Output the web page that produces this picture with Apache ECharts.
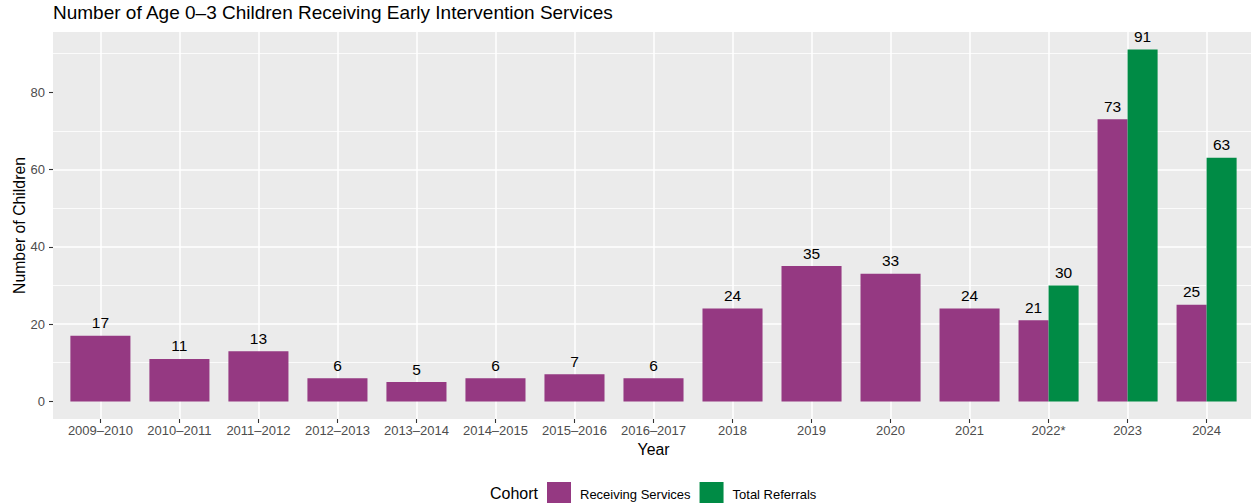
<!DOCTYPE html>
<html>
<head>
<meta charset="utf-8">
<script src="https://cdn.jsdelivr.net/npm/echarts@6/dist/echarts.min.js"></script>
<style>
html,body{margin:0;padding:0;background:#fff;}
#chart{width:1251px;height:503px;}
</style>
</head>
<body>
<div id="chart"></div>
<script>
const years = ['2009–2010','2010–2011','2011–2012','2012–2013','2013–2014','2014–2015','2015–2016','2016–2017','2018','2019','2020','2021','2022*','2023','2024'];
const receivingServices = [17,11,13,6,5,6,7,6,24,35,33,24,21,73,25];
const totalReferrals = [null,null,null,null,null,null,null,null,null,null,null,null,30,91,63];
const yTicks = [0,20,40,60,80];
const yMinor = [10,30,50,70,90];

const PURPLE = '#953982';
const GREEN = '#008B45';
const FONT = 'Liberation Sans, Arial, Helvetica, sans-serif';

// dodge info: -1 left half, +1 right half, 0 full width
const recData = receivingServices.map((v,i)=>[i, v, totalReferrals[i]==null ? 0 : -1]);
const refData = totalReferrals.map((v,i)=> v==null ? null : [i, v, 1]).filter(d=>d);

function makeRender(color){
  return function(params, api){
    const x = api.value(0), y = api.value(1), off = api.value(2);
    const top = api.coord([x, y]);
    const base = api.coord([x, 0]);
    const unit = api.size([1, 0])[0];
    const full = unit * 0.76;
    const w = off === 0 ? full : full / 2;
    const left = off === 1 ? top[0] : top[0] - full / 2;
    return {
      type: 'group',
      children: [
        {type:'rect', shape:{x:left, y:top[1], width:w, height:base[1]-top[1]}, style:{fill:color}},
        {type:'text', x:left + w/2, y:top[1] - 5,
         style:{text:String(y), align:'center', verticalAlign:'bottom', fill:'#000', fontSize:15.5, fontFamily:FONT}}
      ]
    };
  };
}

const chart = echarts.init(document.getElementById('chart'), null, {renderer:'svg'});
chart.setOption({
  animation: false,
  backgroundColor: '#ffffff',
  textStyle: {fontFamily: FONT},
  title: [
    {text:'Number of Age 0–3 Children Receiving Early Intervention Services', left:53, top:3, padding:0,
     textStyle:{fontSize:19, fontWeight:'normal', color:'#000', fontFamily:FONT}},
    {text:'Cohort', left:490, top:485, padding:0, textStyle:{fontSize:16, fontWeight:'normal', color:'#000', fontFamily:FONT}}
  ],
  legend: {
    data: ['Receiving Services','Total Referrals'],
    left: 547, top: 482, orient:'horizontal', padding:0,
    icon: 'rect', itemWidth: 24, itemHeight: 24, itemGap: 9,
    textStyle: {fontSize: 13, color:'#000', fontFamily: FONT, padding:[0,0,0,4]}
  },
  grid: {left:53, right:-3, top:32, bottom:84, show:true, backgroundColor:'#EBEBEB', borderWidth:0,
         containLabel:false, outerBoundsMode:'none'},
  xAxis: {
    type:'value', min:-0.6, max:14.6,
    name:'Year', nameLocation:'middle', nameGap:22, nameMoveOverlap:false,
    nameTextStyle:{fontSize:15.8, color:'#000', fontFamily:FONT},
    axisLine:{show:false, onZero:false},
    axisTick:{show:true, length:4, lineStyle:{color:'#333', width:1.1}, customValues: years.map((_,i)=>i)},
    axisLabel:{customValues: years.map((_,i)=>i), formatter:(v)=>years[Math.round(v)], fontSize:13, color:'#4D4D4D', margin:5, fontFamily:FONT},
    splitLine:{show:true, lineStyle:{color:'#fff', width:1.5}},
    minorSplitLine:{show:false}
  },
  yAxis: {
    type:'value', min:-4.55, max:95.55,
    name:'Number of Children', nameLocation:'middle', nameGap:26, nameRotate:90, nameMoveOverlap:false,
    nameTextStyle:{fontSize:15.8, color:'#000', fontFamily:FONT},
    axisLine:{show:false, onZero:false},
    axisTick:{show:true, length:4, lineStyle:{color:'#333', width:1.1}, customValues: yTicks},
    axisLabel:{customValues: yTicks, fontSize:13, color:'#4D4D4D', margin:8, fontFamily:FONT},
    splitLine:{show:true, showMinLine:false, showMaxLine:false, lineStyle:{color:'#fff', width:1.5}}
  },
  series: [
    {type:'line', data:[], z:1, silent:true,
     markLine:{silent:true, z:1, symbol:'none', label:{show:false}, animation:false,
       lineStyle:{color:'#fff', width:0.8, type:'solid'},
       emphasis:{disabled:true},
       data: yMinor.map(v=>({yAxis:v}))}},
    {type:'custom', name:'Receiving Services', z:3, itemStyle:{color:PURPLE},
     renderItem: makeRender(PURPLE), data: recData, encode:{x:0, y:1}},
    {type:'custom', name:'Total Referrals', z:3, itemStyle:{color:GREEN},
     renderItem: makeRender(GREEN), data: refData, encode:{x:0, y:1}}
  ]
});
</script>
</body>
</html>
